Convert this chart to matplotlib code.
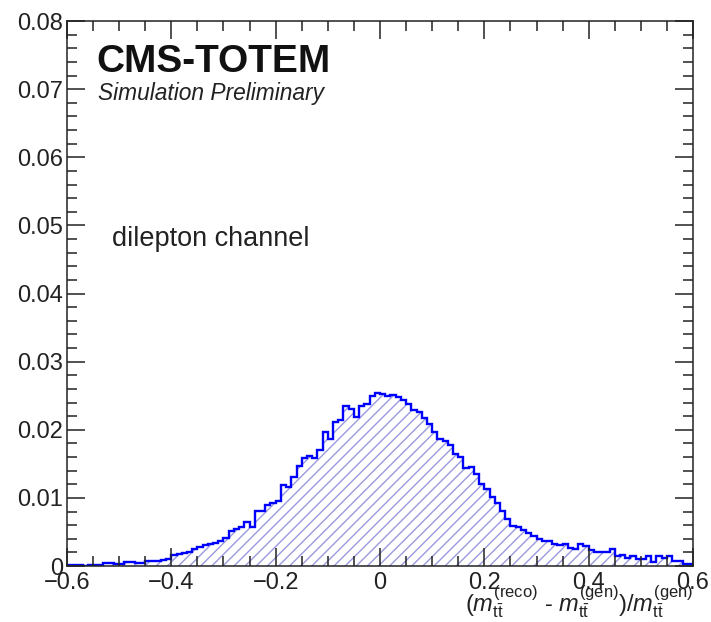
import numpy as np
import matplotlib
matplotlib.use("Agg")
import matplotlib.pyplot as plt
from matplotlib.ticker import MultipleLocator

plt.rcParams['font.family'] = ['Liberation Sans', 'DejaVu Sans']
plt.rcParams['mathtext.fontset'] = 'custom'
plt.rcParams['mathtext.rm'] = 'Liberation Sans'
plt.rcParams['mathtext.it'] = 'Liberation Sans:italic'
plt.rcParams['hatch.linewidth'] = 1.0

# histogram range and bin width
x_lo, x_hi = -0.6, 0.6
bin_width = 0.01

# normalised entries per bin, from -0.60 up to 0.59
left_tail = [0.0002, 0.0002, 0.0001, 0.0000, 0.0001, 0.0002, 0.0002, 0.0004, 0.0004, 0.0003,
             0.0003, 0.0006, 0.0006, 0.0005, 0.0005, 0.0008, 0.0008, 0.0008, 0.0009, 0.0010]
rising = [0.0016, 0.0018, 0.0019, 0.0021, 0.0025, 0.0028, 0.0031, 0.0033, 0.0034, 0.0036,
          0.0041, 0.0052, 0.0055, 0.0057, 0.0065, 0.0057, 0.0081, 0.0081, 0.0090, 0.0093,
          0.0096, 0.0119, 0.0116, 0.0131, 0.0147, 0.0159, 0.0162, 0.0159, 0.0171, 0.0196,
          0.0187, 0.0211, 0.0214, 0.0235, 0.0230, 0.0219, 0.0235, 0.0238, 0.0249, 0.0254]
falling = [0.0253, 0.0250, 0.0251, 0.0248, 0.0243, 0.0238, 0.0229, 0.0226, 0.0218, 0.0209,
           0.0196, 0.0187, 0.0184, 0.0177, 0.0165, 0.0160, 0.0144, 0.0146, 0.0135, 0.0120,
           0.0113, 0.0101, 0.0092, 0.0081, 0.0069, 0.0059, 0.0057, 0.0053, 0.0048, 0.0044,
           0.0039, 0.0037, 0.0036, 0.0033, 0.0031, 0.0033, 0.0026, 0.0025, 0.0032, 0.0030,
           0.0023, 0.0021, 0.0020, 0.0020, 0.0025, 0.0015, 0.0016, 0.0012, 0.0015, 0.0010,
           0.0010, 0.0015, 0.0006, 0.0015, 0.0012, 0.0015, 0.0007, 0.0007, 0.0003, 0.0003]

counts = np.array(left_tail + rising + falling)
edges = x_lo + bin_width * np.arange(len(counts) + 1)

fig = plt.figure(figsize=(7.11, 6.22), dpi=100)
ax = fig.add_axes([0.0942, 0.090, 0.8805, 0.8762])

# hatched fill, then the outline on top
ax.stairs(counts, edges, fill=True, facecolor='none', edgecolor='#9a9ade',
          hatch='///', linewidth=0)
ax.stairs(counts, edges, color='#0000ff', linewidth=1.7, baseline=None)

ax.set_xlim(x_lo, x_hi)
ax.set_ylim(0, 0.08)

ax.xaxis.set_major_locator(MultipleLocator(0.2))
ax.xaxis.set_minor_locator(MultipleLocator(0.05))
ax.yaxis.set_major_locator(MultipleLocator(0.01))
ax.yaxis.set_minor_locator(MultipleLocator(0.002))
ax.xaxis.set_major_formatter(plt.FuncFormatter(lambda v, p: '0' if abs(v) < 1e-9 else f'{v:.1f}'.replace('-', '\u2212')))
ax.yaxis.set_major_formatter(plt.FuncFormatter(lambda v, p: '0' if abs(v) < 1e-9 else f'{v:.2f}'))

ax.tick_params(which='both', direction='in', top=True, right=True, width=1.1,
               labelsize=17, color='#222222', labelcolor='#222222')
ax.tick_params(which='major', length=13)
ax.tick_params(which='minor', length=7)
ax.tick_params(axis='x', pad=4)
ax.tick_params(axis='y', pad=3)
for s in ax.spines.values():
    s.set_linewidth(1.1)
    s.set_color('#222222')

ax.text(0.047, 0.906, 'CMS-TOTEM', transform=ax.transAxes, fontsize=28,
        fontweight='bold', color='#111111', va='baseline')
ax.text(0.05, 0.856, 'Simulation Preliminary', transform=ax.transAxes, fontsize=16.4,
        style='italic', color='#222222', va='baseline')
ax.text(0.072, 0.588, 'dilepton channel', transform=ax.transAxes, fontsize=19.5,
        color='#222222', va='baseline')

fig.text(693 / 711, 0.017,
         r'$(m^{\rm(reco)}_{\rm t\bar{t}}$ - $m^{\rm(gen)}_{\rm t\bar{t}})/m^{\rm(gen)}_{\rm t\bar{t}}$',
         ha='right', va='baseline', fontsize=17, color='#222222')

fig.savefig('out.png', dpi=100)
